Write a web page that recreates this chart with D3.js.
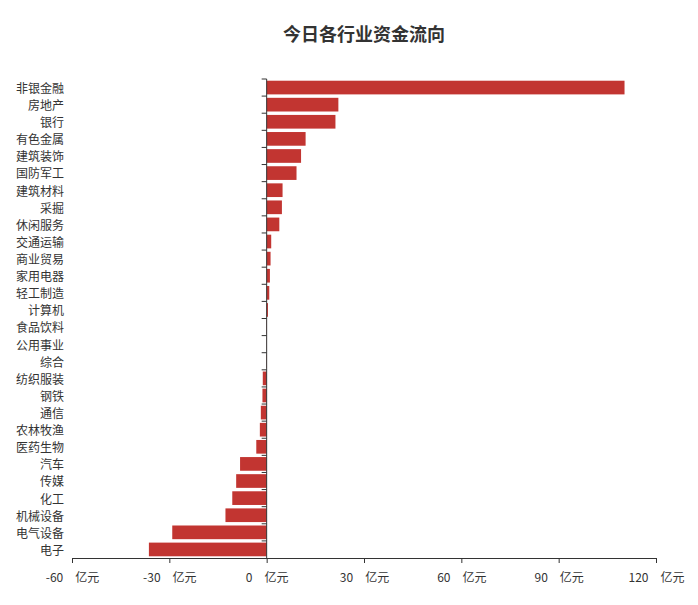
<!DOCTYPE html>
<html>
<head>
<meta charset="utf-8">
<script src="https://cdn.jsdelivr.net/npm/d3@7"></script>
<style>
  body { margin: 0; background: #fff; }
  text { font-family: "Noto Sans CJK SC", "Microsoft YaHei", sans-serif; }
</style>
</head>
<body>
<svg id="chart"></svg>
<script>
const industries = ['非银金融', '房地产', '银行', '有色金属', '建筑装饰', '国防军工', '建筑材料', '采掘', '休闲服务',
  '交通运输', '商业贸易', '家用电器', '轻工制造', '计算机', '食品饮料', '公用事业', '综合', '纺织服装', '钢铁',
  '通信', '农林牧渔', '医药生物', '汽车', '传媒', '化工', '机械设备', '电气设备', '电子'];
const flows = [110.3, 22.1, 21.2, 12.0, 10.6, 9.2, 4.9, 4.7, 3.9,
  1.4, 1.2, 1.0, 0.8, 0.4, 0.1, 0.05, -0.1, -1.2, -1.3,
  -1.8, -2.1, -3.2, -8.2, -9.4, -10.6, -12.7, -29.1, -36.3];
const xTicks = [-60, -30, 0, 30, 60, 90, 120];
const unit = '亿元';

(() => {
  const svgDim = { w: 698, h: 605 },
    grid = { l: 72, r: 656, t: 79, b: 558 },
    $svg = d3.select('#chart')
      .attr('width', svgDim.w)
      .attr('height', svgDim.h)
      .attr('viewBox', '0 0 ' + svgDim.w + ' ' + svgDim.h);

  const xScale = d3.scaleLinear().domain([-60, 120]).range([grid.l, grid.r]),
    yScale = d3.scaleBand().domain(industries).range([grid.t, grid.b]).paddingInner(0.2).paddingOuter(0.1);

  $svg.append('text')
    .text('今日各行业资金流向')
    .attr('x', (grid.l + grid.r) / 2)
    .attr('y', 41)
    .attr('text-anchor', 'middle')
    .attr('font-size', 18)
    .attr('font-weight', 'bold')
    .attr('fill', '#333');

  // bars
  $svg.append('g').selectAll('rect')
    .data(industries)
    .enter()
    .append('rect')
    .attr('x', (d, i) => Math.min(xScale(0), xScale(flows[i])))
    .attr('width', (d, i) => Math.abs(xScale(flows[i]) - xScale(0)))
    .attr('y', (d) => yScale(d))
    .attr('height', yScale.bandwidth())
    .attr('fill', '#c23531');

  // x axis
  const xAxis = $svg.append('g')
    .attr('transform', 'translate(0,' + grid.b + ')')
    .call(d3.axisBottom(xScale).tickValues(xTicks).tickSize(5).tickSizeOuter(0)
      .tickFormat((d) => d + '\u3000' + unit));
  xAxis.select('.domain').attr('stroke', '#333');
  xAxis.selectAll('.tick line').attr('stroke', '#333');
  xAxis.selectAll('.tick text')
    .attr('font-size', 12)
    .attr('fill', '#333')
    .attr('dy', '1.35em')
    .style('font-family', '"Noto Sans CJK SC", sans-serif');

  // y axis on zero line, ticks at band boundaries
  const yAxisG = $svg.append('g');
  yAxisG.append('line')
    .attr('x1', xScale(0)).attr('x2', xScale(0))
    .attr('y1', grid.t).attr('y2', grid.b)
    .attr('stroke', '#333');
  const step = (grid.b - grid.t) / industries.length;
  yAxisG.selectAll('line.ytick')
    .data(d3.range(industries.length))
    .enter()
    .append('line')
    .attr('class', 'ytick')
    .attr('x1', xScale(0) - 5)
    .attr('x2', xScale(0))
    .attr('y1', (i) => grid.t + i * step)
    .attr('y2', (i) => grid.t + i * step)
    .attr('stroke', '#333');

  // y labels at grid left
  $svg.append('g').selectAll('text')
    .data(industries)
    .enter()
    .append('text')
    .text((d) => d)
    .attr('x', grid.l - 8)
    .attr('y', (d) => yScale(d) + yScale.bandwidth() / 2)
    .attr('dy', '0.45em')
    .attr('text-anchor', 'end')
    .attr('font-size', 12)
    .attr('fill', '#333');
})();
</script>
</body>
</html>
